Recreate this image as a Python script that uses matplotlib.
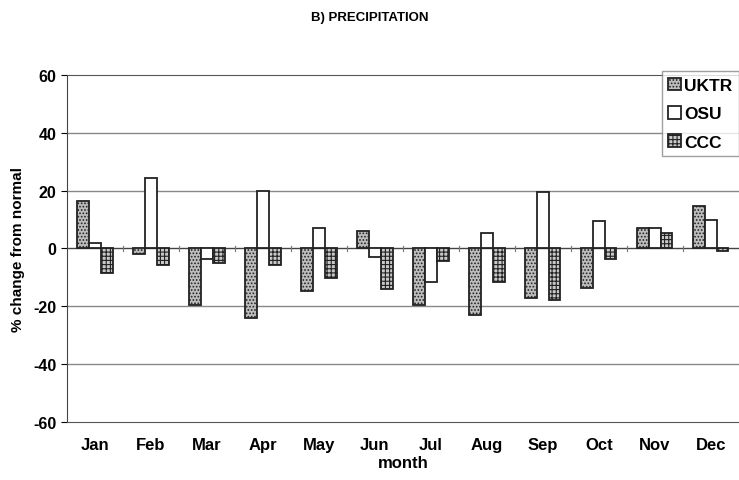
import matplotlib
matplotlib.use("Agg")
import matplotlib.pyplot as plt
import numpy as np

months = ["Jan", "Feb", "Mar", "Apr", "May", "Jun",
          "Jul", "Aug", "Sep", "Oct", "Nov", "Dec"]
uktr = [16.5, -2, -19.5, -24, -14.8, 6, -19.5, -23, -17.2, -13.8, 7, 14.8]
osu = [1.8, 24.5, -3.6, 19.8, 7, -2.8, -11.7, 5.4, 19.5, 9.6, 7, 10]
ccc = [-8.6, -5.6, -5.1, -5.6, -10.2, -14, -4.4, -11.7, -17.7, -3.6, 5.3, -1]
yticks = [-60, -40, -20, 0, 20, 40, 60]

plt.rcParams['font.family'] = ['Liberation Sans', 'DejaVu Sans']
plt.rcParams['font.weight'] = 'bold'
plt.rcParams['hatch.linewidth'] = 0.8

fig = plt.figure(figsize=(7.39, 4.81), dpi=100)
ax = fig.add_axes([0.0907, 0.1206, 0.909, 0.7215])

x = np.arange(len(months))
w = 0.21
ax.bar(x - w, uktr, w, color='#bdbdbd', edgecolor='#222222', hatch='.....',
       linewidth=1.3, label='UKTR', zorder=3)
ax.bar(x, osu, w, color='white', edgecolor='#222222',
       linewidth=1.3, label='OSU', zorder=3)
ax.bar(x + w, ccc, w, color='#c8c8c8', edgecolor='#222222', hatch='++++',
       linewidth=1.3, label='CCC', zorder=3)

ax.set_xlim(-0.5, 11.5)
ax.set_ylim(-60, 60)
ax.set_yticks(yticks)
ax.set_yticklabels([str(v) for v in yticks], fontsize=11.5, fontweight='bold')
ax.set_xticks(x)
ax.set_xticklabels(months, fontsize=12, fontweight='bold')
ax.tick_params(axis='x', length=0, pad=11)
ax.tick_params(axis='y', length=4, direction='out')

for v in [-40, -20, 20, 40]:
    ax.axhline(v, color='#888888', linewidth=1.0, zorder=1)
ax.axhline(0, color='#444444', linewidth=1.0, zorder=2)
for b in np.arange(0.5, 11.5, 1.0):
    ax.plot([b, b], [-0.8, 0.8], color='#777777', linewidth=0.8, zorder=2)

ax.spines['top'].set_color('#555555')
ax.spines['top'].set_linestyle((0, (3, 1)))
ax.spines['bottom'].set_color('#555555')
ax.spines['bottom'].set_linestyle((0, (3, 1)))
ax.spines['right'].set_visible(False)
ax.spines['left'].set_color('#444444')

ax.set_ylabel('% change from normal', fontsize=11, fontweight='bold', labelpad=6)
ax.set_xlabel('month', fontsize=12, fontweight='bold', labelpad=2)
fig.text(0.5, 0.962, 'B) PRECIPITATION', ha='center', va='center',
         fontsize=9.5, fontweight='bold')

leg = ax.legend(loc='upper right', bbox_to_anchor=(1.0, 1.01), fontsize=12.5,
                frameon=True, fancybox=False, handlelength=0.75,
                handleheight=0.75, handletextpad=0.2, borderpad=0.35,
                labelspacing=0.75, borderaxespad=0.0)
leg.get_frame().set_edgecolor('#888888')
leg.get_frame().set_linewidth(1.0)
for t in leg.get_texts():
    t.set_fontweight('bold')

fig.savefig('out.png', dpi=100)
